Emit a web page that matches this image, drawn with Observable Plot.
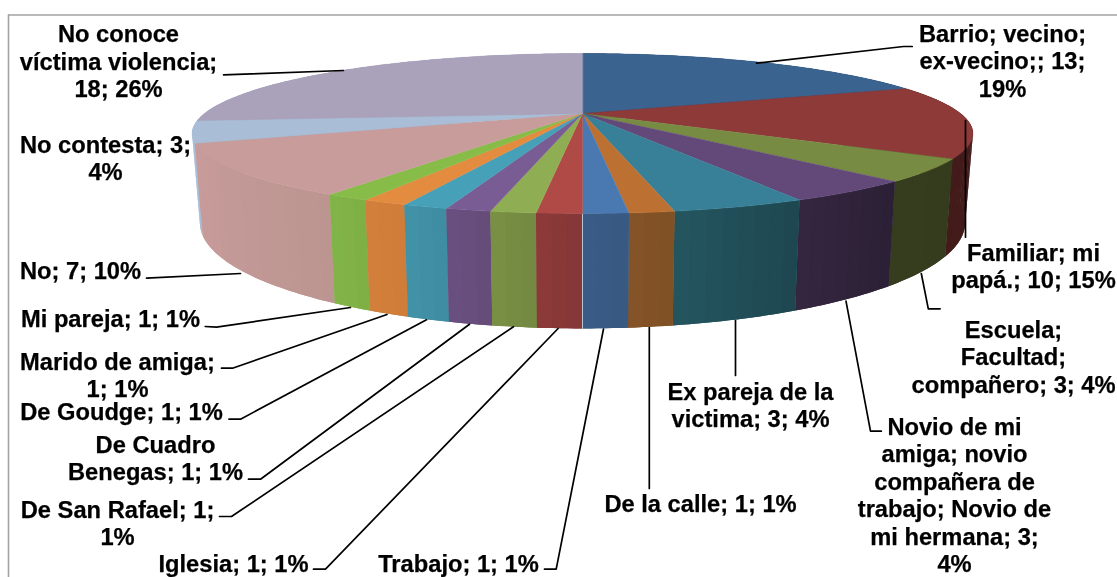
<!DOCTYPE html>
<html>
<head>
<meta charset="utf-8">
<script src="https://cdn.jsdelivr.net/npm/d3@7"></script>
<script src="https://cdn.jsdelivr.net/npm/@observablehq/plot@0.6"></script>
<style>html,body{margin:0;padding:0;background:#fff}svg{display:block;filter:blur(0.35px)}</style>
</head>
<body>
<div id="chart"></div>
<script>
// ---- data, clockwise from twelve o'clock ----
const categories = ["Barrio","Familiar","Escuela","Novio","Ex pareja","De la calle","Trabajo","Iglesia","De San Rafael","De Cuadro Benegas","De Goudge","Marido de amiga","Mi pareja","No","No contesta","No conoce"];
const values = [13,10,3,3,3,1,1,1,1,1,1,1,1,7,3,18];
const labels = [
  "Barrio; vecino;\nex-vecino;; 13;\n19%",
  "Familiar; mi\npapá.; 10; 15%",
  "Escuela;\nFacultad;\ncompañero; 3; 4%",
  "Novio de mi\namiga; novio\ncompañera de\ntrabajo; Novio de\nmi hermana; 3;\n4%",
  "Ex pareja de la\nvictima; 3; 4%",
  "De la calle; 1; 1%",
  "Trabajo; 1; 1%",
  "Iglesia; 1; 1%",
  "De San Rafael; 1;\n1%",
  "De Cuadro\nBenegas; 1; 1%",
  "De Goudge; 1; 1%",
  "Marido de amiga;\n1; 1%",
  "Mi pareja; 1; 1%",
  "No; 7; 10%",
  "No contesta; 3;\n4%",
  "No conoce\nvíctima violencia;\n18; 26%"
];

// ---- colours ----
const topColors = ["#3A638F","#8D3A39","#778C42","#63497A","#388097","#BC7133","#4A78B0","#B04A47","#8FAD53","#795C94","#46A0B8","#E38B3F","#87BC48","#C89C9B","#A9BDD6","#AAA2BA"];
const sideRight = ["#2A4766","#3F1A18","#353C1D","#2A2035","#1E4650","#7F5025","#375880","#853636","#738840","#654C78","#3D8CA2","#CE7C38","#7EAF45","#BC9590","#A9BDD6","#AAA2BA"];
const sideLeft  = ["#2A4766","#431B1A","#363D1E","#35263F","#245660","#855427","#3B5C87","#8D3A39","#799045","#6A5080","#4292A8","#D27F3B","#82B548","#C89C9B","#A9BDD6","#AAA2BA"];

// ---- layout of the label text (centre of each block) and leader lines ----
const labelX = [1002,1033,1013,954,750,700,458,233,117,155,121,117,110,80,105,118];
const labelY = [60,265,356,494,404,503,563,563,522,457,411,374,318,270,157,60.5];
const leaders = [
  [[911.7,46],[903,46],[756,62.7]],
  [[965,120],[965,236.7]],
  [[939.6,308.3],[927.8,308.3],[920.8,273]],
  [[880.8,430.7],[870,430.7],[845.5,300.7]],
  [[735,375],[735,320]],
  [[648.8,488],[648.8,327]],
  [[544,568.7],[555.7,568.7],[603,328.5]],
  [[313,568.7],[325,568.7],[557.6,328]],
  [[219,516],[231,516],[513,326.3]],
  [[248,478.7],[260,478.7],[469,323.7]],
  [[228.5,418.7],[240,418.7],[426,319.3]],
  [[221,367.7],[232,367.7],[386.5,314]],
  [[204.7,326],[216,326.7],[350,307]],
  [[146,277.7],[240,273]],
  [[223,74.3],[343,70]]
];

// ---- perspective disc ----
const cx = 582, cy = 113, rx = 378, ry = 75, k = 0.25;
const total = d3.sum(values);
const topPoint = deg => {
  const t = deg * Math.PI / 180, u = Math.sin(t), v = -Math.cos(t), w = 1 - k * v;
  return [cx + rx * u / w, cy + ry * v / w];
};
const bottomPoint = ([x, y]) => [cx + 0.98 * (x - cx), 287 + 1.32 * (y - 182)];

let acc = 0;
const wedges = values.map((v, i) => {
  const a0 = acc / total * 360; acc += v; const a1 = acc / total * 360;
  return {i, a0, a1};
});

const topRows = [], sideRows = [];
const sideOrder = [...wedges].sort((p, q) => topPoint((p.a0 + p.a1) / 2)[1] - topPoint((q.a0 + q.a1) / 2)[1]);
for (const {i, a0, a1} of wedges) {
  topRows.push({id: i, x: cx, y: cy, c: topColors[i]});
  const n = Math.ceil(a1 - a0);
  for (let s = 0; s <= n; s++) {
    const [x, y] = topPoint(a0 + (a1 - a0) * s / n);
    topRows.push({id: i, x, y, c: topColors[i]});
  }
}
for (const {i, a0, a1} of sideOrder) {
  const mix = d3.interpolateRgb(sideRight[i], sideLeft[i]);
  const band = (id, d0, d1, c) => {
    const steps = Math.max(1, Math.ceil(d1 - d0));
    const upper = d3.range(steps + 1).map(j => topPoint(d0 + (d1 - d0) * j / steps));
    const pts = [...upper, ...upper.map(bottomPoint).reverse()];
    for (const [x, y] of pts) sideRows.push({id, x, y, c});
  };
  band(i + "-base", a0, a1, mix(0.5));
  const n = Math.max(1, Math.round((a1 - a0) / 2));
  for (let s = 0; s < n; s++) {
    band(i + "-" + s, a0 + (a1 - a0) * s / n, a0 + (a1 - a0) * (s + 1) / n, mix((s + 0.5) / n));
  }
}

// pale seam where the cumulative share reaches one half
const half = wedges.find(w => Math.abs(w.a1 - 180) < 1e-9);
const seamTop = topPoint(half.a1);
const seam = [seamTop, bottomPoint(seamTop)].map(([x, y]) => ({x, y}));

const labelRows = labels.map((text, i) => ({text, x: labelX[i], y: labelY[i]}));
const leaderRows = leaders.flatMap((pts, id) => pts.map(([x, y]) => ({id, x, y})));

const chart = Plot.plot({
  width: 1117, height: 577,
  margin: 0,
  style: {background: "#fff"},
  x: {domain: [0, 1117], range: [0, 1117], axis: null},
  y: {domain: [0, 577], range: [0, 577], axis: null},
  color: {type: "identity"},
  marks: [
    Plot.ruleY([14.5], {x1: 8, x2: 1117, stroke: "#A3A3A3", strokeWidth: 1.6}),
    Plot.ruleX([8], {y1: 14.5, y2: 577, stroke: "#A3A3A3", strokeWidth: 1.6}),
    Plot.line(sideRows, {x: "x", y: "y", z: "id", fill: "c", stroke: "none", curve: "linear-closed"}),
    Plot.line(seam, {x: "x", y: "y", stroke: "#B9C6D8", strokeWidth: 1}),
    Plot.line(topRows, {x: "x", y: "y", z: "id", fill: "c", stroke: "c", strokeWidth: 0.4, curve: "linear-closed"}),
    Plot.line(leaderRows, {x: "x", y: "y", z: "id", stroke: "#000", strokeWidth: 1.7, curve: "linear"}),
    Plot.text(labelRows, {x: "x", y: "y", text: "text", fontSize: 23.7, fontWeight: "bold", fontFamily: "Liberation Sans, Arial, sans-serif", fill: "#000", stroke: "#000", strokeWidth: 0.25, lineHeight: 1.16, textAnchor: "middle", lineAnchor: "middle"})
  ]
});
document.getElementById("chart").appendChild(chart);
</script>
</body>
</html>
